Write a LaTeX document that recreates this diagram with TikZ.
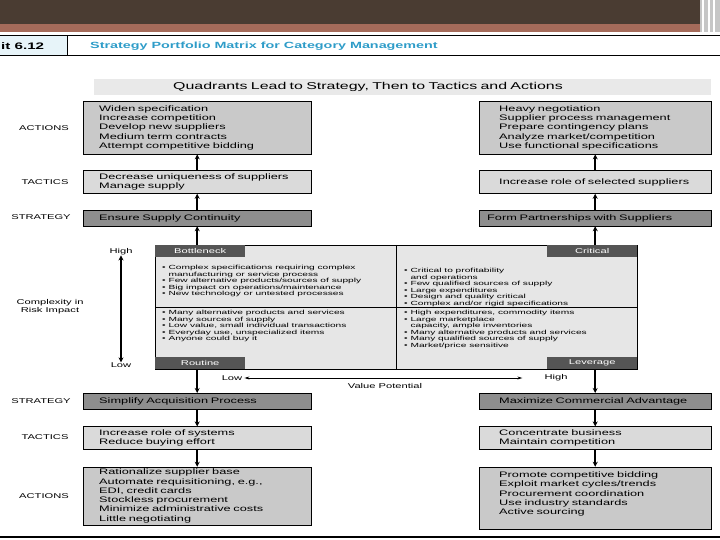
\documentclass[tikz,border=0pt]{standalone}
\usepackage{fontspec}
\setmainfont[FakeStretch=1.6]{Liberation Sans}
\newfontfamily\quadfont[FakeStretch=1.7]{Liberation Sans}
\usepackage{tikz}
\usetikzlibrary{arrows.meta,positioning}
\definecolor{topBrown}{HTML}{4A3C32}
\definecolor{bandRed}{HTML}{A56B5A}
\definecolor{titleBlue}{HTML}{2E9CC8}
\definecolor{cellBlue}{HTML}{E7F4F9}
\definecolor{banFill}{HTML}{E9E9E9}
\definecolor{actFill}{HTML}{C9C9C9}
\definecolor{tacFill}{HTML}{DADADA}
\definecolor{strFill}{HTML}{8E8E8E}
\definecolor{quadFill}{HTML}{E6E6E6}
\definecolor{tabFill}{HTML}{555555}
\newcommand\itm{\textbullet\ }
\newcommand\cnt{\phantom{\textbullet}\ }

\begin{document}
\begin{tikzpicture}[x=1bp,y=-1bp,
  txt/.style={inner sep=0pt,font=\fontsize{7}{8}\selectfont},
  side/.style={inner sep=0pt,font=\fontsize{7}{8}\selectfont},
  lbox/.style={draw=black,anchor=north west,minimum width=228bp,text width=196bp,inner xsep=16bp,inner ysep=2bp,align=left,font=\fontsize{8}{9.3}\selectfont},
  rbox/.style={lbox,minimum width=232bp,text width=192bp,inner xsep=20bp},
  act/.style={fill=actFill,minimum height=53bp},
  tac/.style={fill=tacFill,minimum height=23bp},
  str/.style={fill=strFill,minimum height=16bp},
  tab/.style={fill=tabFill,text=white,minimum width=90bp,minimum height=12bp,inner sep=0pt,font=\fontsize{7}{8}\selectfont},
  quad/.style={anchor=north west,inner sep=0pt,align=left,font=\quadfont\fontsize{6}{6.6}\selectfont},
  arr/.style={-{Stealth[length=5bp,width=5bp]},line width=1.8bp},
  dbl/.style={{Stealth[length=5bp,width=5bp]}-{Stealth[length=5bp,width=5bp]},line width=1.8bp},
  thinarr/.style={{Stealth[length=5bp,width=3bp]}-{Stealth[length=5bp,width=3bp]},line width=0.7bp}
]
\useasboundingbox (0,0) rectangle (720,540);
% header bands
\fill[topBrown] (0,0) rectangle (720,24);
\fill[bandRed] (0,24) rectangle (720,32);
\fill[gray!45] (700,0) rectangle (720,32);
\foreach \x in {703,709,714} \draw[white,line width=1.2bp] (\x,0) -- (\x,32);
\fill[cellBlue] (0,36) rectangle (67,56);
\draw[line width=1bp] (0,36) -- (720,36);
\draw[line width=1bp] (0,56) -- (720,56);
\draw (67,36) -- (67,56);
\node[anchor=west,inner sep=0pt,font=\fontsize{9.5}{10}\selectfont\bfseries] (exh) at (1,46) {it 6.12};
\node[anchor=west,inner sep=0pt,text=titleBlue,font=\fontsize{9}{10}\selectfont\bfseries] (ttl) at (90,46) {Strategy Portfolio Matrix for Category Management};
\node[anchor=north west,fill=banFill,minimum width=617bp,minimum height=16bp,text width=459bp,inner xsep=79bp,inner ysep=0pt,align=left,font=\fontsize{10}{11}\selectfont] (ban) at (94,79) {Quadrants Lead to Strategy, Then to Tactics and Actions};

% upper half
\node[lbox,act] (lact) at (83,101) {Widen specification\\Increase competition\\Develop new suppliers\\Medium term contracts\\Attempt competitive bidding};
\node[lbox,tac,below=16bp of lact] (ltac) {Decrease uniqueness of suppliers\\Manage supply};
\node[lbox,str,below=16bp of ltac] (lstr) {Ensure Supply Continuity};
\node[rbox,act] (ract) at (479,101) {Heavy negotiation\\Supplier process management\\Prepare contingency plans\\Analyze market/competition\\Use functional specifications};
\node[rbox,tac,below=16bp of ract] (rtac) {Increase role of selected suppliers};
\node[rbox,str,text width=216bp,inner xsep=8bp,below=16bp of rtac] (rstr) {Form Partnerships with Suppliers};

\node[side] (sa1) at (44,128) {ACTIONS};
\node[side] (st1) at (45,182) {TACTICS};
\node[side] (ss1) at (41,217) {STRATEGY};

% matrix
\node[draw=black,fill=quadFill,anchor=north west,minimum width=482bp,minimum height=124bp,inner sep=0pt] (mx) at (155,245) {};
\draw (mx.north) -- (mx.south);
\draw (mx.west) -- (mx.east);
\node[tab,anchor=north west] (tbn) at (mx.north west) {Bottleneck};
\node[tab,anchor=north east] (tcr) at (mx.north east) {Critical};
\node[tab,anchor=south west] (trt) at (mx.south west) {Routine};
\node[tab,anchor=south east] (tlv) at (mx.south east) {Leverage};
\node[quad] (qbn) at (162,265) {\itm Complex specifications requiring complex\\\cnt manufacturing or service process\\\itm Few alternative products/sources of supply\\\itm Big impact on operations/maintenance\\\itm New technology or untested processes};
\node[quad] (qcr) at (404,268) {\itm Critical to profitability\\\cnt and operations\\\itm Few qualified sources of supply\\\itm Large expenditures\\\itm Design and quality critical\\\itm Complex and/or rigid specifications};
\node[quad] (qrt) at (162,310) {\itm Many alternative products and services\\\itm Many sources of supply\\\itm Low value, small individual transactions\\\itm Everyday use, unspecialized items\\\itm Anyone could buy it};
\node[quad] (qlv) at (404,310) {\itm High expenditures, commodity items\\\itm Large marketplace\\\cnt capacity, ample inventories\\\itm Many alternative products and services\\\itm Many qualified sources of supply\\\itm Market/price sensitive};

\node[txt] (hi) at (121,252) {High};
\node[txt] (lo) at (121,365) {Low};
\draw[dbl] (hi) -- (lo);
\node[txt,align=center] (cx) at (50,307) {Complexity in\\Risk Impact};
\node[txt] (vlo) at (232,378) {Low};
\node[txt] (vhi) at (556,378) {High};
\draw[thinarr,shorten <=2bp,shorten >=22bp] (vlo) -- (vhi);
\node[txt] (vp) at (385,386) {Value Potential};

% lower half
\node[lbox,str] (bls) at (83,393) {Simplify Acquisition Process};
\node[lbox,tac,below=17bp of bls] (blt) {Increase role of systems\\Reduce buying effort};
\node[lbox,act,below=17bp of blt] (bla) {Rationalize supplier base\\Automate requisitioning, e.g.,\\EDI, credit cards\\Stockless procurement\\Minimize administrative costs\\Little negotiating};
\node[rbox,str] (brs) at (479,393) {Maximize Commercial Advantage};
\node[rbox,tac,below=17bp of brs] (brt) {Concentrate business\\Maintain competition};
\node[rbox,act,minimum height=62bp,below=17bp of brt] (bra) {Promote competitive bidding\\Exploit market cycles/trends\\Procurement coordination\\Use industry standards\\Active sourcing\\\mbox{}};

\node[side] (ss2) at (41,401) {STRATEGY};
\node[side] (st2) at (45,437) {TACTICS};
\node[side] (sa2) at (44,496) {ACTIONS};

% connectors
\draw[arr] (ltac) -- (lact);
\draw[arr] (lstr) -- (ltac);
\draw[arr] (lstr.south |- mx.north) -- (lstr);
\draw[arr] (rtac) -- (ract);
\draw[arr] (rstr) -- (rtac);
\draw[arr] (rstr.south |- mx.north) -- (rstr);
\draw[arr] (bls.north |- mx.south) -- (bls);
\draw[arr] (bls) -- (blt);
\draw[arr] (blt) -- (bla);
\draw[arr] (brs.north |- mx.south) -- (brs);
\draw[arr] (brs) -- (brt);
\draw[arr] (brt) -- (bra);

\draw[line width=1.2bp] (0,537) -- (720,537);
\end{tikzpicture}
\end{document}
